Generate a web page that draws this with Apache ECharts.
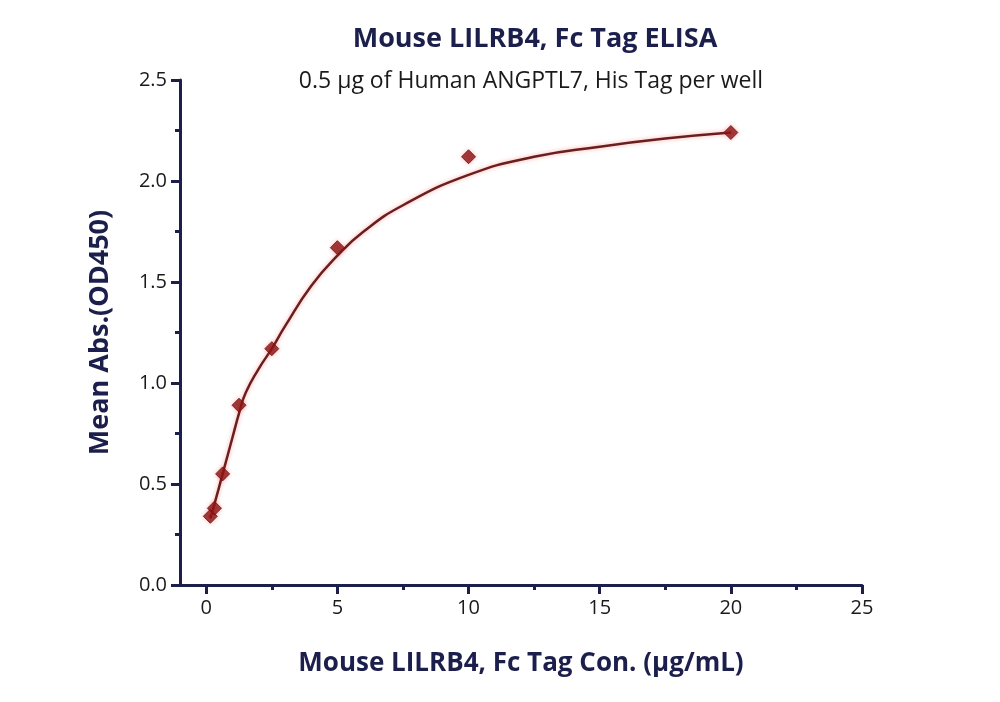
<!DOCTYPE html>
<html lang="en">
<head>
    <meta charset="UTF-8">
    <title>Mouse LILRB4, Fc Tag ELISA</title>
    <style>
        html, body { margin: 0; padding: 0; background: #fff; }
        #container { width: 1000px; height: 702px; }
    </style>
</head>
<body>
<div id="container"></div>
<script src="https://cdn.jsdelivr.net/npm/echarts@6/dist/echarts.min.js"></script>
<script>
  // measured points (concentration, mean OD450)
  var conc = [0.156, 0.3125, 0.625, 1.25, 2.5, 5, 10, 20];
  var absorb = [0.34, 0.38, 0.55, 0.89, 1.17, 1.67, 2.12, 2.24];

  // fitted curve
  var fitX = [0.156, 0.3125, 0.625, 1, 1.25, 1.5, 2, 2.5, 3, 4, 5, 6, 7.5, 10, 12.5, 15, 17.5, 20];
  var fitY = [0.33, 0.40, 0.55, 0.73, 0.85, 0.95, 1.07, 1.17, 1.28, 1.48, 1.63, 1.75, 1.88, 2.03, 2.12, 2.17, 2.21, 2.24];

  var xMajor = [0, 5, 10, 15, 20, 25];
  var xMinor = [2.5, 7.5, 12.5, 17.5, 22.5];

  var navy = '#1c1f4c';
  var font = '"Open Sans", "Noto Sans", sans-serif';

  var points = [];
  for (var i = 0; i < conc.length; i++) {
    points.push([conc[i], absorb[i]]);
  }
  var fit = [];
  for (var j = 0; j < fitX.length; j++) {
    fit.push([fitX[j], fitY[j]]);
  }

  var chart = echarts.init(document.getElementById('container'));
  var option = {
    backgroundColor: '#fff',
    animation: false,
    title: [{
      text: 'Mouse LILRB4, Fc Tag ELISA',
      left: 530,
      top: 21,
      textAlign: 'center',
      textStyle: { fontFamily: font, fontSize: 27, fontWeight: 'bold', color: navy }
    }, {
      text: '0.5 μg of Human ANGPTL7, His Tag per well',
      left: 526,
      top: 65,
      textAlign: 'center',
      textStyle: { fontFamily: font, fontSize: 23, fontWeight: 'normal', color: '#1a1a1a' }
    }],
    grid: {
      left: 180,
      right: 138,
      top: 80,
      bottom: 117
    },
    xAxis: [{
      type: 'value',
      min: -1,
      max: 25,
      name: 'Mouse LILRB4, Fc Tag Con. (μg/mL)',
      nameLocation: 'middle',
      nameGap: 66,
      nameTextStyle: { fontFamily: font, fontSize: 26, fontWeight: 'bold', color: navy },
      axisLine: { show: true, onZero: false, lineStyle: { color: navy, width: 3 } },
      axisTick: { show: true, customValues: xMajor, length: 9, lineStyle: { color: navy, width: 3 } },
      axisLabel: { customValues: xMajor, margin: 13, fontFamily: font, fontSize: 20, color: '#1a1a1a' },
      splitLine: { show: false }
    }, {
      type: 'value',
      min: -1,
      max: 25,
      position: 'bottom',
      axisLine: { show: false, onZero: false },
      axisTick: { show: true, customValues: xMinor, length: 5, lineStyle: { color: navy, width: 3 } },
      axisLabel: { show: false },
      splitLine: { show: false }
    }],
    yAxis: {
      type: 'value',
      min: 0,
      max: 2.5,
      interval: 0.5,
      name: 'Mean Abs.(OD450)',
      nameLocation: 'middle',
      nameGap: 66,
      nameTextStyle: { fontFamily: font, fontSize: 27, fontWeight: 'bold', color: navy },
      axisLine: { show: true, onZero: false, lineStyle: { color: navy, width: 3 } },
      axisTick: { show: true, length: 9, lineStyle: { color: navy, width: 3 } },
      minorTick: { show: true, splitNumber: 2, length: 5, lineStyle: { color: navy, width: 3 } },
      axisLabel: {
        margin: 13,
        fontFamily: font,
        fontSize: 20,
        color: '#1a1a1a',
        formatter: function (v) { return v.toFixed(1); }
      },
      splitLine: { show: false }
    },
    series: [{
      name: 'fit',
      type: 'line',
      data: fit,
      smooth: 0.5,
      showSymbol: false,
      lineStyle: {
        color: '#6a1e1e',
        width: 2.5,
        shadowColor: 'rgba(255, 60, 60, 0.45)',
        shadowBlur: 4
      },
      z: 2
    }, {
      name: 'data',
      type: 'scatter',
      data: points,
      symbol: 'diamond',
      symbolSize: [14, 14],
      itemStyle: {
        color: '#861212',
        borderColor: '#641010',
        borderWidth: 1,
        shadowColor: 'rgba(255, 60, 60, 0.4)',
        shadowBlur: 4
      },
      z: 3
    }]
  };
  chart.setOption(option);
</script>
</body>
</html>
